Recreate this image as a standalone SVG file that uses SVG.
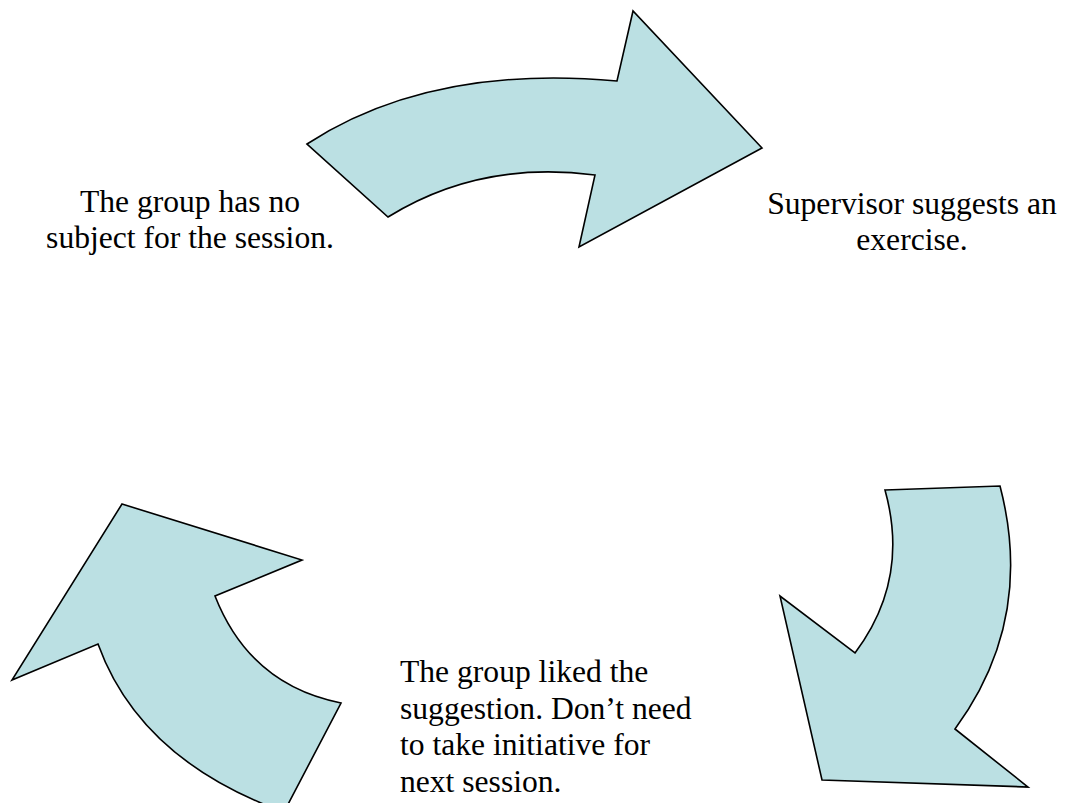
<svg xmlns="http://www.w3.org/2000/svg" width="1069" height="803" viewBox="0 0 1069 803">
<style>
.arrow{fill:#BBE0E3;stroke:#000;stroke-width:1.6;stroke-linejoin:miter}
.t{font-family:"Liberation Serif","Times New Roman",serif;font-size:31.6px;fill:#000}
</style>
<rect width="1069" height="803" fill="#fff"/>
<g id="connectors">
<path id="arrow-top" class="arrow" d="M307,144 Q430,64 617,81 L633,11 L762,148 L579,247 L595,175 Q480,160 388,217 Z"/>
<path id="arrow-right" class="arrow" d="M885,490 L1000,486 Q1035,620 955,729 L1028,787 L822,780 L780,596 L855,653 Q910,580 885,490 Z"/>
<path id="arrow-left" class="arrow" d="M122,504 L302,560 L215,596 Q250,685 341,703 L284,812 Q140,760 98,644 L12,680 Z"/>
</g>
<g id="node-no-subject">
<text class="t" x="190" y="212" text-anchor="middle">The group has no</text>
<text class="t" x="190" y="248" text-anchor="middle">subject for the session.</text>
</g>
<g id="node-supervisor">
<text class="t" x="912" y="214" text-anchor="middle">Supervisor suggests an</text>
<text class="t" x="912" y="250" text-anchor="middle">exercise.</text>
</g>
<g id="node-liked">
<text class="t" x="400" y="682">The group liked the</text>
<text class="t" x="400" y="718.5">suggestion. Don’t need</text>
<text class="t" x="400" y="755">to take initiative for</text>
<text class="t" x="400" y="791.5">next session.</text>
</g>
</svg>
